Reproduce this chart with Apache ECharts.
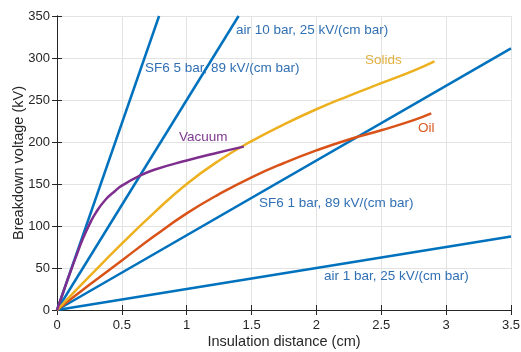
<!DOCTYPE html>
<html>
<head>
<meta charset="utf-8">
<script src="https://cdn.jsdelivr.net/npm/echarts@6/dist/echarts.min.js"></script>
<style>
  html, body { margin: 0; padding: 0; background: #fff; }
  #chart { width: 521px; height: 352px; }
</style>
</head>
<body>
<div id="chart"></div>
<script>
// ---- Data ----
const xAxisName = 'Insulation distance (cm)';
const yAxisName = 'Breakdown voltage (kV)';

const air1bar  = [[0, 0], [3.5, 87.5]];
const sf61bar  = [[0, 0], [3.5, 311.5]];
const air10bar = [[0, 0], [1.4, 350]];
const sf65bar  = [[0, 0], [0.787, 350]];

const vacuum = [[0,0],[0.05,22],[0.1,44],[0.15,65],[0.2,85],[0.25,102],[0.3,116],[0.372,131],
                [0.45,142],[0.5,148],[0.628,159],[0.75,167],[1.0,178],[1.23,187],[1.44,194.5]];
const solids = [[0,0],[0.25,40],[0.5,79],[0.75,116],[1.0,150],[1.25,178],[1.5,201],[1.75,221],
                [2.0,239],[2.25,255],[2.5,270],[2.75,285],[2.91,296]];
const oil    = [[0,0],[0.25,30],[0.5,59],[0.75,88],[1.0,115],[1.25,138],[1.5,158],[1.75,175],
                [2.0,190],[2.25,203],[2.5,214],[2.75,226],[2.885,234]];

const labels = [
  { text: 'air 10 bar, 25 kV/(cm bar)', color: '#3170b3', x: 236, y: 31 },
  { text: 'SF6 5 bar, 89 kV/(cm bar)',  color: '#3170b3', x: 145, y: 69 },
  { text: 'Solids',                     color: '#e3b040', x: 365, y: 61 },
  { text: 'Vacuum',                     color: '#7e3a90', x: 179, y: 138 },
  { text: 'Oil',                        color: '#d95a25', x: 418, y: 129 },
  { text: 'SF6 1 bar, 89 kV/(cm bar)',  color: '#3170b3', x: 259, y: 204 },
  { text: 'air 1 bar, 25 kV/(cm bar)',  color: '#3170b3', x: 324, y: 277 }
];

// ---- Chart ----
const FONT = '"Liberation Sans", Arial, Helvetica, sans-serif';
const BLUE = '#0072bd', RED = '#d95319', YEL = '#edb120', PUR = '#7e2f8e';
const axisCol = '#262626';
const gridCol = '#e3e3e3';

function lineSeries(data, color, smooth) {
  return {
    type: 'line', data: data, showSymbol: false, symbol: 'none',
    smooth: smooth || false, clip: true, silent: true,
    lineStyle: { color: color, width: 2.5 }, itemStyle: { color: color },
    animation: false
  };
}

const chart = echarts.init(document.getElementById('chart'), null, { renderer: 'canvas' });
const baseX = {
  type: 'value', min: 0, max: 3.5, interval: 0.5,
  axisLine: { show: true, lineStyle: { color: axisCol, width: 1 } },
  axisTick: { show: true, inside: true, length: 5, lineStyle: { color: axisCol } },
  splitLine: { show: false }
};
const baseY = {
  type: 'value', min: 0, max: 350, interval: 50,
  axisLine: { show: true, lineStyle: { color: axisCol, width: 1 } },
  axisTick: { show: true, inside: true, length: 5, lineStyle: { color: axisCol } },
  splitLine: { show: false }
};

chart.setOption({
  animation: false,
  backgroundColor: '#fff',
  grid: { left: 57, right: 10, top: 16, bottom: 42, containLabel: false, outerBoundsMode: 'none' },
  xAxis: [
    Object.assign({}, baseX, {
      position: 'bottom',
      name: xAxisName, nameLocation: 'middle', nameGap: 24, nameMoveOverlap: false,
      nameTextStyle: { color: axisCol, fontSize: 14.5, fontFamily: FONT },
      axisLabel: { color: axisCol, fontSize: 13, fontFamily: FONT, margin: 9 },
      splitLine: { show: true, lineStyle: { color: gridCol, width: 1 } }
    }),
    Object.assign({}, baseX, { position: 'top', axisLabel: { show: false } })
  ],
  yAxis: [
    Object.assign({}, baseY, {
      position: 'left',
      name: yAxisName, nameLocation: 'middle', nameGap: 31, nameRotate: 90, nameMoveOverlap: false,
      nameTextStyle: { color: axisCol, fontSize: 14.5, fontFamily: FONT },
      axisLabel: { color: axisCol, fontSize: 13, fontFamily: FONT, margin: 7 },
      splitLine: { show: true, lineStyle: { color: gridCol, width: 1 } }
    }),
    Object.assign({}, baseY, { position: 'right', axisLabel: { show: false } })
  ],
  series: [
    lineSeries(air1bar, BLUE),
    lineSeries(sf61bar, BLUE),
    lineSeries(air10bar, BLUE),
    lineSeries(sf65bar, BLUE),
    lineSeries(oil, RED, 0.5),
    lineSeries(solids, YEL, 0.5),
    lineSeries(vacuum, PUR, 0.5)
  ],
  graphic: labels.map(l => ({
    type: 'text', left: l.x, top: l.y - 8, silent: true, z: 100,
    style: { text: l.text, fill: l.color, font: '13.5px ' + FONT }
  }))
});
</script>
</body>
</html>
